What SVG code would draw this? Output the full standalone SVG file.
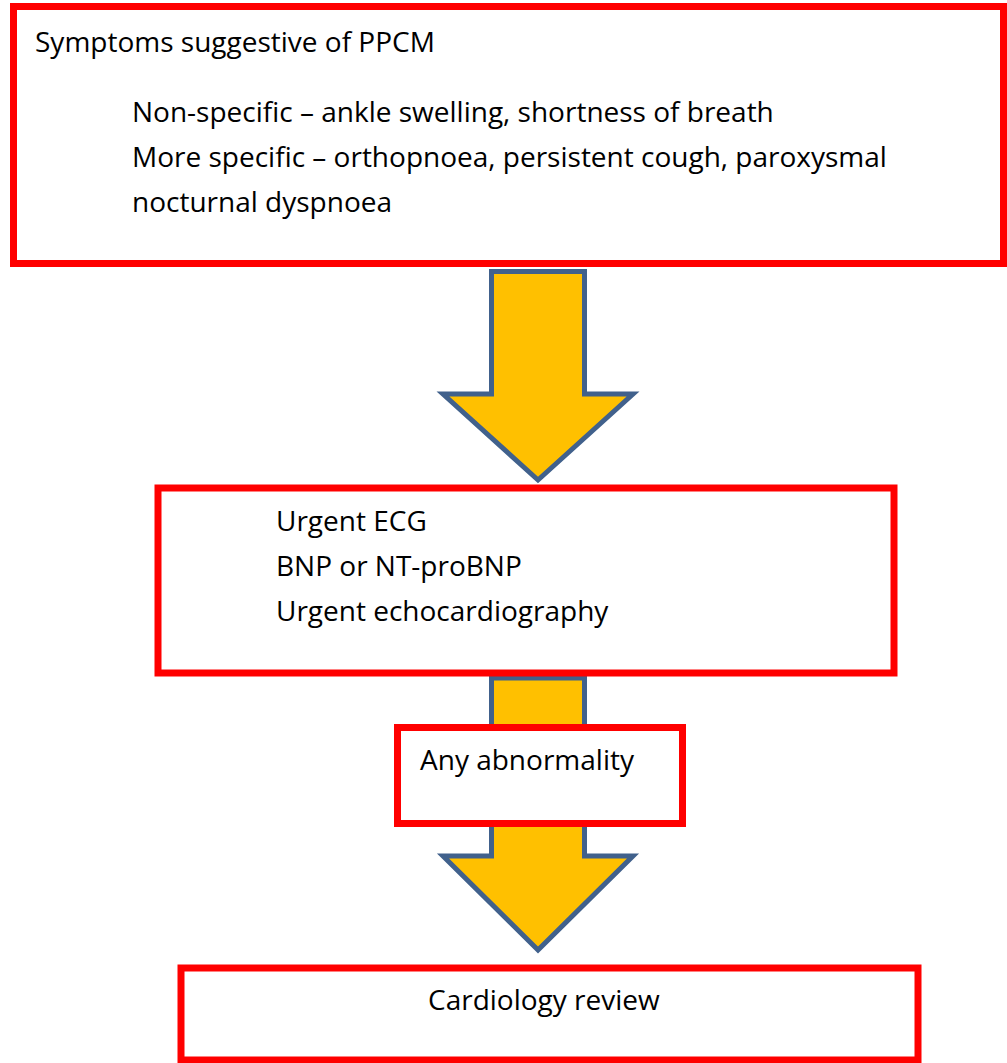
<svg xmlns="http://www.w3.org/2000/svg" width="1007" height="1063" viewBox="0 0 1007 1063">
<style>
.box{fill:#fff;stroke:#ff0000;stroke-width:7}
.arrow{fill:#ffc000;stroke:#41618c;stroke-width:5;stroke-linejoin:miter}
text{font-family:"Open Sans","Liberation Sans",Arial,sans-serif;font-size:28px;fill:#000}
</style>
<rect width="1007" height="1063" fill="#fff"/>
<g id="connectors">
<path class="arrow" d="M491.5,271.5 H584.5 V394 H633 L538,480 L443,394 H491.5 Z"/>
<path class="arrow" d="M491.5,678 H584.5 V856 H633 L538,950 L443,856 H491.5 Z"/>
</g>
<g id="node-symptoms">
<rect class="box" x="13.5" y="6.5" width="990" height="257"/>
<text x="35" y="52">Symptoms suggestive of PPCM</text>
<text x="132" y="122">Non-specific – ankle swelling, shortness of breath</text>
<text x="132" y="167">More specific – orthopnoea, persistent cough, paroxysmal</text>
<text x="132" y="212">nocturnal dyspnoea</text>
</g>
<g id="node-tests">
<rect class="box" x="158" y="488" width="736" height="185"/>
<text x="276" y="531">Urgent ECG</text>
<text x="276" y="576">BNP or NT-proBNP</text>
<text x="276" y="621">Urgent echocardiography</text>
</g>
<g id="node-abnormality">
<rect class="box" x="397.5" y="727.5" width="285" height="96"/>
<text x="420" y="770">Any abnormality</text>
</g>
<g id="node-cardiology">
<rect class="box" x="181" y="968" width="737" height="92"/>
<text x="428" y="1010">Cardiology review</text>
</g>
</svg>
